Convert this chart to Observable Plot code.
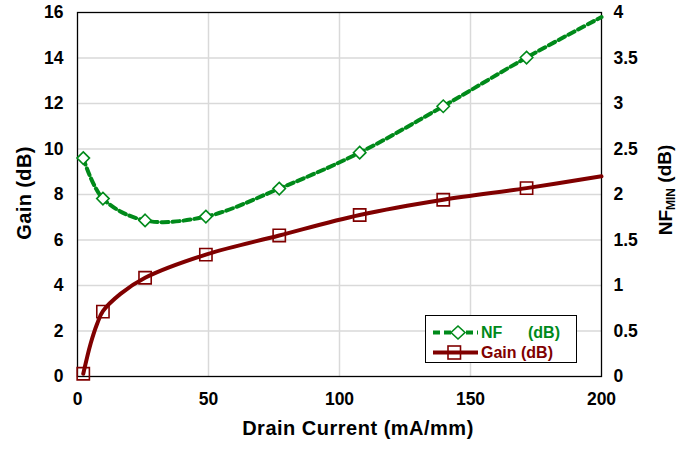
<!DOCTYPE html>
<html><head><meta charset="utf-8">
<script src="https://cdn.jsdelivr.net/npm/d3@7"></script>
<script src="https://cdn.jsdelivr.net/npm/@observablehq/plot@0.6"></script>
<style>body{margin:0;background:#fff;} #chart{position:relative;width:692px;height:449px;}</style>
</head><body><div id="chart"></div>
<script>
// ---- data ----
const markerCurrent = [2.2, 9.7, 25.8, 49, 77, 107.7, 139.6, 171.4];
const nfMarkers = [2.4, 1.955, 1.715, 1.757, 2.065, 2.46, 2.97, 3.505];
const gainMarkers = [0.12, 2.85, 4.34, 5.36, 6.2, 7.1, 7.77, 8.28];
const nfLineCurrent = [2.2, 9.7, 25.8, 49, 77, 107.7, 139.6, 171.4, 200];
const nfLine = [2.4, 1.955, 1.715, 1.757, 2.065, 2.46, 2.97, 3.505, 3.95];
const gainLineCurrent = [2.2, 5, 7.5, 9.7, 16.4, 25.8, 49, 77, 107.7, 139.6, 171.4, 200];
const gainLine = [0.12, 1.44, 2.32, 2.87, 3.63, 4.34, 5.36, 6.2, 7.1, 7.77, 8.28, 8.8];
const xTicks = [0, 50, 100, 150, 200];
const gainTicks = [0, 2, 4, 6, 8, 10, 12, 14, 16];
const nfTicks = [0, 0.5, 1, 1.5, 2, 2.5, 3, 3.5, 4];
const xTitle = "Drain Current (mA/mm)";
const gainTitle = "Gain (dB)";
const nfTitle = ["NF", "MIN", " (dB)"];
const legendNF = ["NF", "(dB)"];
const legendGain = "Gain (dB)";

const GREEN = "#008a1a", RED = "#800000";
const ratio = d3.max(gainTicks) / d3.max(nfTicks);

const markers = markerCurrent.map((x, i) => ({x, nf: nfMarkers[i], gain: gainMarkers[i]}));
const nfL = nfLineCurrent.map((x, i) => ({x, v: nfLine[i]}));
const gainL = gainLineCurrent.map((x, i) => ({x, v: gainLine[i]}));

const W = 692, H = 449, mL = 77, mR = 91, mT = 12, mB = 73;
const font = "'Liberation Sans', Arial, sans-serif";

const plot = Plot.plot({
  width: W, height: H,
  marginLeft: mL, marginRight: mR, marginTop: mT, marginBottom: mB,
  style: {fontFamily: font, fontSize: "17.5px", fontWeight: "bold", color: "#000", background: "#fff"},
  x: {domain: [d3.min(xTicks), d3.max(xTicks)]},
  y: {domain: [d3.min(gainTicks), d3.max(gainTicks)]},
  marks: [
    Plot.gridX(xTicks.slice(1, -1), {stroke: "#d9d9d9", strokeOpacity: 1, strokeWidth: 1.5}),
    Plot.gridY(gainTicks.slice(1, -1), {stroke: "#d9d9d9", strokeOpacity: 1, strokeWidth: 1.5}),
    Plot.frame({stroke: "#000", strokeWidth: 1.3}),
    Plot.axisX(xTicks, {tickSize: 0, tickPadding: 16, label: null, fontWeight: "bold"}),
    Plot.axisY(gainTicks, {anchor: "left", tickSize: 0, tickPadding: 14, label: null, fontWeight: "bold"}),
    Plot.axisY(nfTicks.map(v => v * ratio), {anchor: "right", tickSize: 0, tickPadding: 12, label: null, fontWeight: "bold",
      tickFormat: v => String(v / ratio)}),
    Plot.line(gainL, {x: "x", y: "v", stroke: RED, strokeWidth: 4, curve: "catmull-rom"}),
    Plot.line(nfL, {x: "x", y: d => d.v * ratio, stroke: GREEN, strokeWidth: 4, strokeDasharray: "7,4", curve: "catmull-rom"}),
    Plot.dot(markers, {x: "x", y: "gain", symbol: "square2", r: 7.8, stroke: RED, strokeWidth: 1.6, fill: "none"}),
    Plot.dot(markers, {x: "x", y: d => d.nf * ratio, symbol: "diamond2", r: 5.6, stroke: GREEN, strokeWidth: 1.6, fill: "#fff"})
  ]
});
document.getElementById("chart").appendChild(plot);

const svg = d3.select(plot);
// axis titles
svg.append("text").attr("x", 358).attr("y", 428).attr("text-anchor", "middle").attr("dy", "0.35em")
  .style("font-size", "20px").style("font-weight", "bold").style("letter-spacing", "0.5px").text(xTitle);
svg.append("text").attr("transform", "translate(24,193) rotate(-90)").attr("text-anchor", "middle").attr("dy", "0.35em")
  .style("font-size", "20px").style("font-weight", "bold").style("letter-spacing", "0.4px").text(gainTitle);
const rt = svg.append("text").attr("transform", "translate(665,190) rotate(-90)").attr("text-anchor", "middle").attr("dy", "0.35em")
  .style("font-size", "19px").style("font-weight", "bold");
rt.append("tspan").text(nfTitle[0]);
rt.append("tspan").attr("dy", "0.3em").style("font-size", "12px").text(nfTitle[1]);
rt.append("tspan").attr("dy", "-0.2em").text(nfTitle[2]);

// legend
const lg = svg.append("g").attr("text-anchor", "start");
lg.append("rect").attr("x", 425.5).attr("y", 315.5).attr("width", 151).attr("height", 47)
  .attr("fill", "#fff").attr("stroke", "#000").attr("stroke-width", 1);
const r1 = 332.5, r2 = 352.5;
lg.append("line").attr("x1", 433).attr("x2", 478).attr("y1", r1).attr("y2", r1)
  .attr("stroke", GREEN).attr("stroke-width", 4).attr("stroke-dasharray", "7,4");
lg.append("path").attr("d", `M458,${r1-6.5}L465,${r1}L458,${r1+6.5}L451,${r1}Z`)
  .attr("fill", "#fff").attr("stroke", GREEN).attr("stroke-width", 1.6);
lg.append("text").attr("x", 481).attr("y", r1).attr("dy", "0.35em").attr("fill", GREEN)
  .style("font-size", "16px").style("font-weight", "bold").text(legendNF[0]);
lg.append("text").attr("x", 528).attr("y", r1).attr("dy", "0.35em").attr("fill", GREEN)
  .style("font-size", "16px").style("font-weight", "bold").text(legendNF[1]);
lg.append("line").attr("x1", 433).attr("x2", 478).attr("y1", r2).attr("y2", r2)
  .attr("stroke", RED).attr("stroke-width", 4);
lg.append("rect").attr("x", 448).attr("y", r2 - 6.5).attr("width", 12.5).attr("height", 13)
  .attr("fill", "none").attr("stroke", RED).attr("stroke-width", 1.6);
lg.append("text").attr("x", 481).attr("y", r2).attr("dy", "0.35em").attr("fill", RED)
  .style("font-size", "16px").style("font-weight", "bold").text(legendGain);
</script>
</body></html>
